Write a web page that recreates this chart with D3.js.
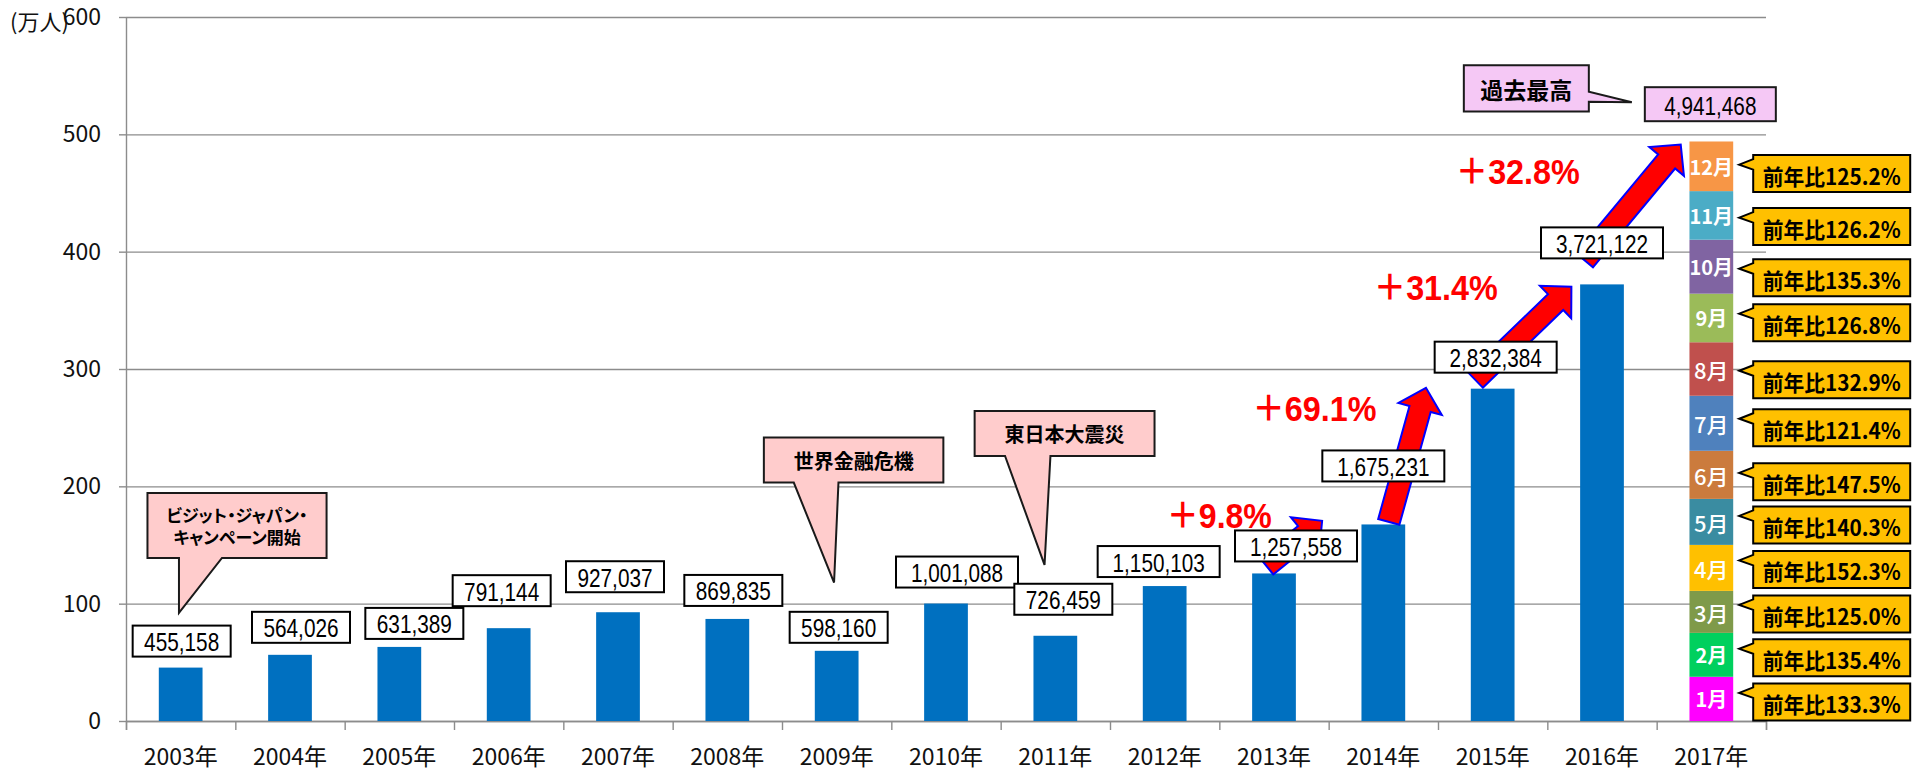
<!DOCTYPE html>
<html>
<head>
<meta charset="utf-8">
<script src="https://cdn.jsdelivr.net/npm/d3@7"></script>
<style>
    body { margin: 0; background: #fff; }
    svg { display: block; font-family: "Noto Sans CJK JP", sans-serif; }
    .cjk { font-feature-settings: "palt"; }
    .num { font-family: "Liberation Sans Narrow", "Arial Narrow", "Liberation Sans", sans-serif; }
</style>
</head>
<body>
<svg id="chart" width="1919" height="771"></svg>
<script>
// categories
const years = ["2003年", "2004年", "2005年", "2006年", "2007年", "2008年", "2009年",
    "2010年", "2011年", "2012年", "2013年", "2014年", "2015年", "2016年", "2017年"];
// annual visitors (persons), 2003-2016
const visitors = [455158, 564026, 631389, 791144, 927037, 869835, 598160,
    1001088, 726459, 1150103, 1257558, 1675231, 2832384, 3721122];
const total2017 = 4941468;
// 2017 by month (万人), stacked
const months = ["1月", "2月", "3月", "4月", "5月", "6月", "7月", "8月", "9月", "10月", "11月", "12月"];
const monthly2017 = [37.7, 37.4, 35.8, 39.2, 39.2, 41.0, 46.9, 45.6, 41.4, 46.0, 41.4, 42.3];
const yoy2017 = [133.3, 135.4, 125.0, 152.3, 140.3, 147.5, 121.4, 132.9, 126.8, 135.3, 126.2, 125.2];
const yTicks = [0, 100, 200, 300, 400, 500, 600];
// growth arrows: [band position, value(万人)] of tail and tip
const growthLabels = ["＋9.8%", "＋69.1%", "＋31.4%", "＋32.8%"];
const growthFrom = [[10.43, 132.2], [11.55, 169.7], [12.34, 290.8], [13.34, 392.7]];
const growthTo = [[10.94, 170.6], [11.89, 284.0], [13.22, 370.1], [14.22, 491.3]];
const growthTextAt = [[10.0, 174.8], [10.87, 266.1], [11.98, 369.3], [12.73, 468.2]];
// event callouts
const eventYears = ["2003年", "2009年", "2011年"];
const eventTexts = [["ビジット・ジャパン・", "キャンペーン開始"], ["世界金融危機"], ["東日本大震災"]];
const eventPointAt = [92.1, 118, 133];

const monthColors = ["#FF00FF", "#00D05E", "#7F9A4A", "#FFC000", "#3A8CA1", "#CB7B3D",
    "#4F81BD", "#C0504D", "#9BBB59", "#8064A2", "#4BACC6", "#F79646"];
const plainMonths = new Set(["3月", "4月", "5月", "6月", "7月", "8月"]);

// label nudges [dx, gap above bar] in px
const labelShift = [[1, 11], [11, 12], [15, 8], [-7, 22], [-3, 20], [6, 13], [2, 8],
    [11, 16], [8, 21], [-6, 9], [22, 12], [0, 43], [3, 16], [0, 26]];
const calloutNudge = [3, 3, 2, 1.5, 3, 7, 4.5, 10.7, 4.7, 11, 11.2, 7.3];
const bubbleLayout = [
    {dx: -1.7, box: [-31.5, 147.6, -120, -55], base: [0, 43], size: 17},
    {dx: -2.6, box: [-70.2, 109.3, -145, -100], base: [-40.3, 4.4], size: 20},
    {dx: -10.8, box: [-69.9, 110, -154, -109], base: [-39.5, 5.9], size: 20}
];

const svg = d3.select("#chart");
const left = 126, right = 1766;

const x = d3.scaleBand().domain(years).range([left, right]).paddingInner(0.6).paddingOuter(0.3);
const xPos = d3.scaleLinear().domain([0, years.length]).range([left, right]);
const y = d3.scaleLinear().domain([0, 600]).range([721, 17]);

svg.append("rect").attr("width", 1919).attr("height", 771).attr("fill", "#fff");

// gridlines
svg.append("g")
    .attr("transform", `translate(${left},0)`)
    .call(d3.axisLeft(y).tickValues(yTicks).tickSize(-(right - left)).tickFormat(""))
    .call(g => g.select(".domain").remove())
    .call(g => g.selectAll("line").attr("stroke", "#8c8c8c").attr("stroke-width", 1.4));

// y axis
svg.append("g")
    .attr("transform", `translate(${left},0)`)
    .call(d3.axisLeft(y).tickValues(yTicks).tickSize(7).tickSizeOuter(0).tickPadding(18))
    .call(g => g.select(".domain").attr("stroke", "#8c8c8c").attr("stroke-width", 1.4))
    .call(g => g.selectAll("line").attr("stroke", "#8c8c8c").attr("stroke-width", 1.4))
    .call(g => g.selectAll("text").attr("font-size", 23).attr("fill", "#111")
        .attr("font-family", "'Noto Sans CJK JP', sans-serif"));

svg.append("text")
    .attr("x", 10).attr("y", 30)
    .attr("font-size", 22).attr("fill", "#111")
    .text("(万人)");

// x axis: boundary ticks + centred labels
svg.append("g")
    .attr("transform", `translate(0,${y(0)})`)
    .call(d3.axisBottom(xPos).tickValues(d3.range(years.length + 1)).tickSize(9).tickFormat(""))
    .call(g => g.select(".domain").attr("stroke", "#8c8c8c").attr("stroke-width", 1.4))
    .call(g => g.selectAll("line").attr("stroke", "#8c8c8c").attr("stroke-width", 1.4));

svg.append("g")
    .attr("transform", `translate(0,${y(0)})`)
    .call(d3.axisBottom(x).tickSize(0))
    .call(g => g.select(".domain").remove())
    .call(g => g.selectAll("text").attr("y", 36).attr("dy", "0.35em")
        .attr("font-size", 23).attr("fill", "#111")
        .attr("font-family", "'Noto Sans CJK JP', sans-serif"));

// annual bars
svg.append("g")
    .selectAll("rect")
    .data(visitors)
    .join("rect")
    .attr("x", (d, i) => x(years[i]))
    .attr("width", x.bandwidth())
    .attr("y", d => y(d / 1e4))
    .attr("height", d => y(0) - y(d / 1e4))
    .attr("fill", "#0070C0");

// stacked 2017 bar
const cum = d3.cumsum(monthly2017);
const segs = monthly2017.map((v, i) => ({month: months[i], y0: cum[i] - v, y1: cum[i], i}));
const x17 = x("2017年"), bw = x.bandwidth();

svg.append("g")
    .selectAll("rect")
    .data(segs)
    .join("rect")
    .attr("x", x17)
    .attr("width", bw)
    .attr("y", d => y(d.y1))
    .attr("height", d => y(d.y0) - y(d.y1))
    .attr("fill", d => monthColors[d.i]);

svg.append("g")
    .selectAll("text")
    .data(segs)
    .join("text")
    .attr("class", "cjk")
    .attr("x", x17 + bw / 2)
    .attr("y", d => y((d.y0 + d.y1) / 2))
    .attr("dominant-baseline", "central")
    .attr("text-anchor", "middle")
    .attr("fill", "#fff")
    .attr("font-size", d => plainMonths.has(d.month) ? 22 : 20)
    .attr("font-weight", d => plainMonths.has(d.month) ? 500 : 700)
    .text(d => d.month);

// growth arrows
function arrowPath(p0, p1, w, hw, hl) {
    const dx = p1[0] - p0[0], dy = p1[1] - p0[1];
    const len = Math.hypot(dx, dy);
    const ux = dx / len, uy = dy / len;
    const nx = -uy, ny = ux;
    const bx = p1[0] - ux * hl, by = p1[1] - uy * hl;
    const pts = [
        [p0[0] + nx * w / 2, p0[1] + ny * w / 2],
        [bx + nx * w / 2, by + ny * w / 2],
        [bx + nx * hw / 2, by + ny * hw / 2],
        p1,
        [bx - nx * hw / 2, by - ny * hw / 2],
        [bx - nx * w / 2, by - ny * w / 2],
        [p0[0] - nx * w / 2, p0[1] - ny * w / 2]
    ];
    return d3.line()(pts) + "Z";
}

svg.append("g")
    .selectAll("path")
    .data(growthLabels)
    .join("path")
    .attr("d", (d, i) => arrowPath(
        [xPos(growthFrom[i][0]), y(growthFrom[i][1])],
        [xPos(growthTo[i][0]), y(growthTo[i][1])], 22, 45, 22))
    .attr("fill", "#FF0000")
    .attr("stroke", "#0000FF")
    .attr("stroke-width", 2)
    .attr("stroke-linejoin", "miter");

// value label boxes
const fmt = d3.format(",");
const textLen = s => s.replace(/,/g, "").length * 11.6 + (s.match(/,/g) || []).length * 5.5;
const labels = svg.append("g")
    .selectAll("g")
    .data(visitors)
    .join("g")
    .attr("transform", (d, i) => {
        const cx = x(years[i]) + bw / 2 + labelShift[i][0];
        return `translate(${cx},${y(d / 1e4) - labelShift[i][1]})`;
    });

labels.append("rect")
    .attr("x", d => -(fmt(d).length * 12 + 14) / 2)
    .attr("y", -31)
    .attr("width", d => fmt(d).length * 12 + 14)
    .attr("height", 31)
    .attr("fill", "#fff")
    .attr("stroke", "#000")
    .attr("stroke-width", 2);

labels.append("text")
    .attr("class", "num")
    .attr("y", -14.5)
    .attr("dominant-baseline", "central")
    .attr("text-anchor", "middle")
    .attr("font-size", 25)
    .attr("fill", "#000")
    .attr("textLength", d => textLen(fmt(d)))
    .attr("lengthAdjust", "spacingAndGlyphs")
    .text(d => fmt(d));

// growth percentages
svg.append("g")
    .selectAll("text")
    .data(growthLabels)
    .join("text")
    .attr("x", (d, i) => xPos(growthTextAt[i][0]))
    .attr("y", (d, i) => y(growthTextAt[i][1]))
    .attr("dominant-baseline", "central")
    .attr("text-anchor", "middle")
    .attr("font-family", "'Liberation Sans Narrow', 'Liberation Sans', 'Noto Sans CJK JP', sans-serif")
    .attr("font-weight", 700)
    .attr("font-size", 35)
    .attr("fill", "#FF0000")
    .attr("textLength", d => d.length > 5 ? 124 : 105)
    .attr("lengthAdjust", "spacingAndGlyphs")
    .text(d => d);

// event speech bubbles
const bubbles = svg.append("g")
    .selectAll("g")
    .data(eventTexts)
    .join("g")
    .attr("transform", (d, i) => {
        const ax = x(eventYears[i]) + bw / 2 + bubbleLayout[i].dx;
        return `translate(${ax},${y(eventPointAt[i])})`;
    });

bubbles.append("path")
    .attr("d", (d, i) => {
        const [l, r, t, b] = bubbleLayout[i].box;
        const [b0, b1] = bubbleLayout[i].base;
        return `M${l},${t}H${r}V${b}H${b1}L0,0L${b0},${b}H${l}Z`;
    })
    .attr("fill", "#FFCCCC")
    .attr("stroke", "#1a1a1a")
    .attr("stroke-width", 2);

bubbles.each(function (lines, i) {
    const [l, r, t, b] = bubbleLayout[i].box;
    const cy = (t + b) / 2;
    const lh = bubbleLayout[i].size * 1.3;
    d3.select(this).selectAll("text")
        .data(lines)
        .join("text")
        .attr("class", "cjk")
        .attr("x", (l + r) / 2)
        .attr("y", (d, k) => cy + (k - (lines.length - 1) / 2) * lh)
        .attr("dominant-baseline", "central")
        .attr("text-anchor", "middle")
        .attr("font-size", bubbleLayout[i].size)
        .attr("font-weight", 700)
        .attr("fill", "#000")
        .text(d => d);
});

// 2017 total box and 過去最高 callout
const totalCx = x17 + bw / 2 - 1;
const totalBottom = y(total2017 / 1e4) - 20;
const totalW = 131, totalH = 34;
const tl = totalCx - totalW / 2, tt = totalBottom - totalH;
const totalG = svg.append("g");
totalG.append("path")
    .attr("d", `M${tl - 181},${tt - 22}H${tl - 56}V${tt + 4.6}L${tl - 13},${tt + 15}L${tl - 56},${tt + 14.6}V${tt + 24.3}H${tl - 181}Z`)
    .attr("fill", "#F5C8F5")
    .attr("stroke", "#1a1a1a")
    .attr("stroke-width", 2);
totalG.append("text")
    .attr("class", "cjk")
    .attr("x", tl - 118.5)
    .attr("y", tt + 2)
    .attr("dominant-baseline", "central")
    .attr("text-anchor", "middle")
    .attr("font-size", 23)
    .attr("font-weight", 700)
    .text("過去最高");
totalG.append("rect")
    .attr("x", tl).attr("y", tt)
    .attr("width", totalW).attr("height", totalH)
    .attr("fill", "#F5C8F5")
    .attr("stroke", "#1a1a1a")
    .attr("stroke-width", 2);
totalG.append("text")
    .attr("class", "num")
    .attr("x", totalCx).attr("y", tt + totalH / 2 + 1.5)
    .attr("dominant-baseline", "central")
    .attr("text-anchor", "middle")
    .attr("font-size", 25)
    .attr("textLength", textLen(fmt(total2017)))
    .attr("lengthAdjust", "spacingAndGlyphs")
    .text(fmt(total2017));

// monthly year-on-year callouts
const barRight = x17 + bw;
const callouts = svg.append("g")
    .selectAll("g")
    .data(segs)
    .join("g")
    .attr("transform", d => `translate(${barRight},${y((d.y0 + d.y1) / 2) + calloutNudge[d.i] - 18.5})`);

callouts.append("path")
    .attr("d", "M20,0H177V37H20V14.5L6,9.5L20,4Z")
    .attr("fill", "#FFC000")
    .attr("stroke", "#000")
    .attr("stroke-width", 2);

callouts.append("text")
    .attr("class", "cjk")
    .attr("x", 98.5)
    .attr("y", 19.5)
    .attr("dominant-baseline", "central")
    .attr("text-anchor", "middle")
    .attr("font-size", 22)
    .attr("font-weight", 700)
    .attr("fill", "#000")
    .attr("textLength", 138)
    .attr("lengthAdjust", "spacingAndGlyphs")
    .text(d => `前年比${yoy2017[d.i].toFixed(1)}%`);
</script>
</body>
</html>
